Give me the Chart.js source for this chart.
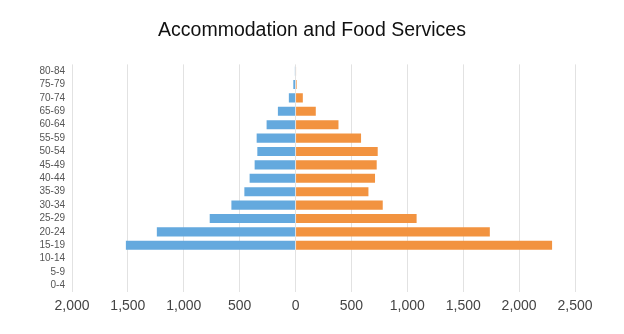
<!DOCTYPE html>
<html>
<head>
<meta charset="utf-8">
<script src="https://cdn.jsdelivr.net/npm/chart.js@4/dist/chart.umd.min.js"></script>
<style>
html,body{margin:0;padding:0;background:#fff;}
#wrap{width:624px;height:334px;position:relative;}
</style>
</head>
<body>
<div id="wrap"><canvas id="c"></canvas></div>
<script>
const title = "Accommodation and Food Services";
const ageGroups = ["80-84","75-79","70-74","65-69","60-64","55-59","50-54","45-49","40-44","35-39","30-34","25-29","20-24","15-19","10-14","5-9","0-4"];
const leftSeries = [6,20,60,158,259,348,342,366,411,458,574,768,1241,1518,0,0,0];
const rightSeries = [5,10,65,181,384,586,735,726,711,652,780,1083,1738,2295,0,0,0];
const xTickMin = -2000;
const xTickMax = 2500;
const xTickStep = 500;

new Chart(document.getElementById('c'), {
  type: 'bar',
  data: {
    labels: ageGroups,
    datasets: [
      { label: 'Left', data: leftSeries.map(v => -v), backgroundColor: '#64a9de', borderWidth: 0, barPercentage: 0.68, categoryPercentage: 1 },
      { label: 'Right', data: rightSeries, backgroundColor: '#f29340', borderWidth: 0, barPercentage: 0.68, categoryPercentage: 1 }
    ]
  },
  options: {
    indexAxis: 'y',
    responsive: true,
    maintainAspectRatio: false,
    animation: false,
    layout: { padding: { left: 0, right: 0, top: 0, bottom: 13 } },
    plugins: {
      legend: { display: false },
      tooltip: { enabled: false },
      title: {
        display: true,
        text: title,
        color: '#111',
        font: { family: 'Liberation Sans, Arial, sans-serif', size: 19.5, weight: 'normal' },
        padding: { top: 19, bottom: 22 }
      }
    },
    scales: {
      x: {
        stacked: true,
        min: xTickMin,
        max: xTickMax,
        ticks: {
          stepSize: xTickStep,
          color: '#444',
          padding: 6,
          font: { family: 'Liberation Sans, Arial, sans-serif', size: 14 },
          maxRotation: 0,
          autoSkip: false,
          callback: v => Math.abs(v).toLocaleString('en-US')
        },
        grid: { color: '#e2e2e2', drawTicks: false, lineWidth: 1 },
        border: { display: false }
      },
      y: {
        stacked: true,
        afterFit: s => { s.width = 72; },
        ticks: {
          color: '#555',
          padding: 7,
          autoSkip: false,
          font: { family: 'Liberation Sans, Arial, sans-serif', size: 10 }
        },
        grid: { display: false, drawTicks: false },
        border: { display: false }
      },
      yRight: {
        type: 'category',
        position: 'right',
        labels: ageGroups,
        afterFit: s => { s.width = 49; },
        ticks: { display: false },
        grid: { display: false, drawTicks: false },
        border: { display: false }
      }
    }
  }
});
</script>
</body>
</html>
